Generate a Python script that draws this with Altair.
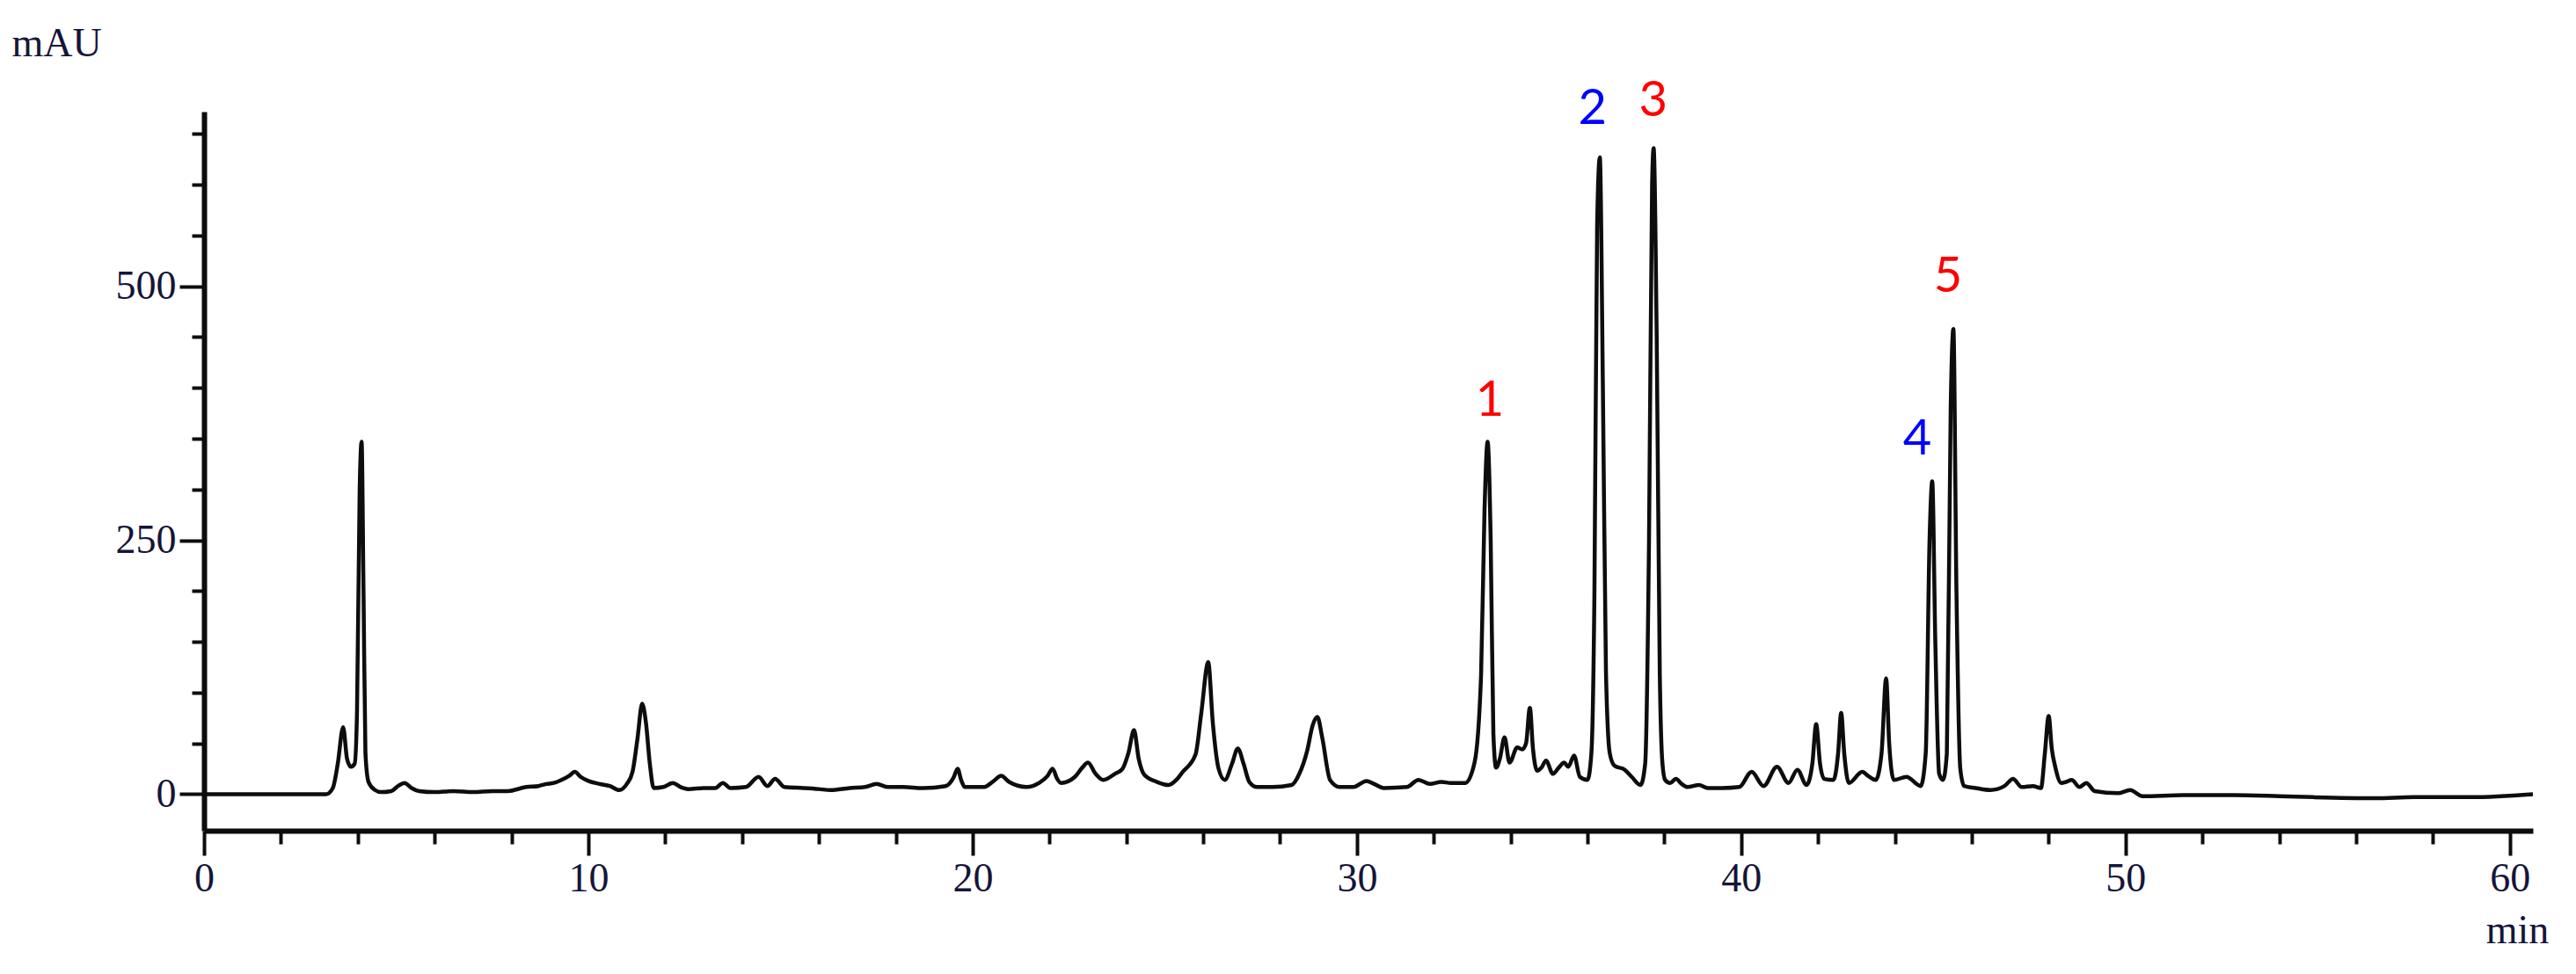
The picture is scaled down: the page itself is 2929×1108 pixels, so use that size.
import altair as alt
import pandas as pd

# Chromatogram trace: retention time (min) and absorbance (mAU)
time_min = [
    0.0, 3.18, 3.35, 3.48, 3.62, 3.72, 3.82, 3.92, 3.98, 4.05, 4.10, 4.15, 4.20, 4.28, 4.45, 4.60,
    4.87, 5.05, 5.22, 5.40, 5.60, 6.00, 6.50, 7.00, 7.50, 7.90, 8.38, 8.70, 8.90, 9.10, 9.30, 9.50,
    9.65, 9.80, 10.00, 10.30, 10.56, 10.80, 11.00, 11.15, 11.28, 11.40, 11.50, 11.60, 11.70, 11.95,
    12.20, 12.40, 12.60, 13.00, 13.30, 13.50, 13.70, 14.10, 14.43, 14.66, 14.86, 15.10, 15.60, 16.00,
    16.30, 16.80, 17.20, 17.50, 17.80, 18.20, 18.70, 19.30, 19.50, 19.61, 19.70, 19.80, 20.30, 20.55,
    20.74, 20.95, 21.40, 21.73, 21.95, 22.08, 22.20, 22.30, 22.66, 22.85, 23.00, 23.20, 23.40, 23.70,
    23.90, 24.05, 24.20, 24.32, 24.47, 24.80, 25.10, 25.30, 25.47, 25.80, 25.95, 26.13, 26.25, 26.40,
    26.56, 26.75, 26.90, 27.05, 27.20, 27.40, 27.80, 28.30, 28.50, 28.70, 28.85, 28.97, 29.10, 29.30,
    29.55, 29.90, 30.25, 30.45, 30.70, 31.30, 31.60, 31.90, 32.20, 32.45, 32.82, 33.06, 33.23, 33.32,
    33.40, 33.48, 33.55, 33.62, 33.72, 33.84, 33.97, 34.17, 34.30, 34.40, 34.50, 34.58, 34.69, 34.80,
    34.92, 35.10, 35.25, 35.39, 35.50, 35.65, 35.80, 36.00, 36.10, 36.18, 36.25, 36.32, 36.40, 36.48,
    36.58, 36.70, 36.97, 37.15, 37.38, 37.50, 37.60, 37.68, 37.72, 37.80, 37.88, 37.95, 38.02, 38.15,
    38.30, 38.45, 38.60, 38.90, 39.13, 39.50, 39.95, 40.27, 40.58, 40.93, 41.23, 41.46, 41.70, 41.85,
    41.95, 42.05, 42.16, 42.40, 42.52, 42.60, 42.68, 42.80, 43.15, 43.30, 43.50, 43.65, 43.77, 43.85,
    43.97, 44.30, 44.67, 44.80, 44.90, 44.97, 45.05, 45.15, 45.25, 45.35, 45.45, 45.52, 45.60, 45.70,
    45.80, 46.10, 46.48, 46.85, 47.07, 47.30, 47.59, 47.80, 47.90, 48.00, 48.08, 48.17, 48.33, 48.45,
    48.60, 48.80, 48.98, 49.20, 49.80, 50.12, 50.44, 51.50, 52.80, 54.00, 54.90, 56.50, 57.50, 59.00,
    60.60,
]
absorbance_mau = [
    0, 0, 6, 30, 66, 35, 27, 30, 80, 300, 347, 200, 40, 12, 4, 2,
    3, 8, 11, 6, 3, 2, 3, 2, 3, 3, 7, 8, 10, 11, 14, 18,
    22, 17, 13, 10, 8, 4, 10, 22, 55, 89, 70, 30, 6, 7,
    11, 7, 5, 6, 6, 11, 6, 7, 17, 8, 15, 7, 6, 5,
    4, 6, 7, 10, 7, 7, 6, 8, 16, 25, 14, 7, 7, 13,
    18, 12, 7, 11, 18, 25, 15, 11, 17, 26, 31, 20, 14, 20,
    25, 40, 63, 35, 19, 12, 9, 14, 22, 39, 80, 130, 70, 25,
    14, 30, 45, 30, 12, 7, 7, 9, 20, 42, 68, 76, 55, 14,
    7, 7, 13, 10, 6, 7, 14, 10, 12, 11, 11, 31, 117, 280,
    347, 250, 60, 26, 35, 56, 31, 46, 44, 50, 85, 45, 23, 26,
    33, 20, 26, 31, 27, 38, 17, 14, 40, 200, 560, 627, 400, 120,
    40, 28, 24, 17, 9, 30, 250, 600, 636, 450, 120, 30, 14, 11,
    15, 10, 7, 9, 6, 6, 7, 22, 8, 27, 11, 24, 9, 30,
    69, 30, 15, 14, 40, 80, 40, 11, 22, 18, 14, 40, 114, 50,
    14, 17, 8, 40, 250, 308, 150, 20, 14, 40, 380, 458, 200, 25,
    8, 6, 4, 8, 15, 7, 8, 6, 40, 77, 45, 27, 11, 12,
    14, 7, 11, 3, 1, 4, -2, -1, -1, -2, -3, -4, -3, -3,
    0,
]

# Peak annotations
peak_labels = ["1", "2", "3", "4", "5"]
peak_label_time = [33.46, 36.13, 37.71, 44.58, 45.38]
peak_label_mau = [387, 675, 682, 349, 509]
peak_label_color = ["#FF0000", "#0000FF", "#FF0000", "#0000FF", "#FF0000"]

# Axis ticks
x_major_ticks = [0, 10, 20, 30, 40, 50, 60]
x_minor_ticks = [2, 4, 6, 8, 12, 14, 16, 18, 22, 24, 26, 28, 32, 34, 36, 38,
                 42, 44, 46, 48, 52, 54, 56, 58]
y_major_ticks = [0, 250, 500]
y_minor_ticks = [50, 100, 150, 200, 300, 350, 400, 450, 550, 600, 650]

trace = pd.DataFrame({"t": time_min, "v": absorbance_mau})
labels = pd.DataFrame({
    "t": peak_label_time,
    "v": peak_label_mau,
    "label": peak_labels,
    "color": peak_label_color,
})

AXIS_FONT = "Liberation Serif"
TEXT_COLOR = "#15153a"
FS = 46
INK = "#0d0d0d"

x_scale = alt.Scale(domain=[0, 60.6], nice=False, zero=False)
y_scale = alt.Scale(domain=[-36, 672], nice=False, zero=False)

line = alt.Chart(trace).mark_line(
    color=INK, strokeWidth=4.5, interpolate="monotone", strokeJoin="round"
).encode(
    x=alt.X(
        "t:Q", scale=x_scale,
        axis=alt.Axis(
            orient="bottom", values=x_major_ticks, format="d",
            tickSize=28, tickWidth=4, tickColor=INK,
            domainWidth=6, domainColor=INK,
            labelFont=AXIS_FONT, labelFontSize=FS, labelColor=TEXT_COLOR, labelPadding=4,
            labelFlush=False, labelOverlap=False,
            title="min", titleFont=AXIS_FONT, titleFontSize=FS, titleFontWeight="normal",
            titleColor=TEXT_COLOR, titleAnchor="start", titleAlign="center",
            titleBaseline="alphabetic", titleX=2630, titleY=127,
        ),
    ),
    y=alt.Y(
        "v:Q", scale=y_scale,
        axis=alt.Axis(
            orient="left", values=y_major_ticks, format="d",
            tickSize=28, tickWidth=4, tickColor=INK,
            domainWidth=6, domainColor=INK,
            labelFont=AXIS_FONT, labelFontSize=FS, labelColor=TEXT_COLOR, labelPadding=4,
            labelFlush=False, labelOverlap=False,
            title="mAU", titleFont=AXIS_FONT, titleFontSize=FS, titleFontWeight="normal",
            titleColor=TEXT_COLOR, titleAngle=0, titleAnchor="start", titleAlign="left",
            titleBaseline="alphabetic", titleX=-219, titleY=-64,
        ),
    ),
)

text = alt.Chart(labels).mark_text(
    font="Lato", fontSize=56, align="center", baseline="middle"
).encode(
    x=alt.X(
        "t:Q", scale=x_scale,
        axis=alt.Axis(
            orient="bottom", values=x_minor_ticks, labels=False, domain=False,
            tickSize=15, tickWidth=4, tickColor=INK, title="",
        ),
    ),
    y=alt.Y(
        "v:Q", scale=y_scale,
        axis=alt.Axis(
            orient="left", values=y_minor_ticks, labels=False, domain=False,
            tickSize=14, tickWidth=4, tickColor=INK, title="",
        ),
    ),
    text="label:N",
    color=alt.Color("color:N", scale=None),
)

chart = (
    alt.layer(line, text)
    .resolve_axis(x="independent", y="independent")
    .properties(
        width=2648,
        height=818,
        autosize=alt.AutoSizeParams(type="none"),
        padding={"left": 224, "top": 119, "right": 40, "bottom": 150},
        background="white",
    )
    .configure_view(strokeWidth=0)
    .configure_axis(grid=False)
)

chart.save("out.html", embed_options={"renderer": "svg", "actions": False})
